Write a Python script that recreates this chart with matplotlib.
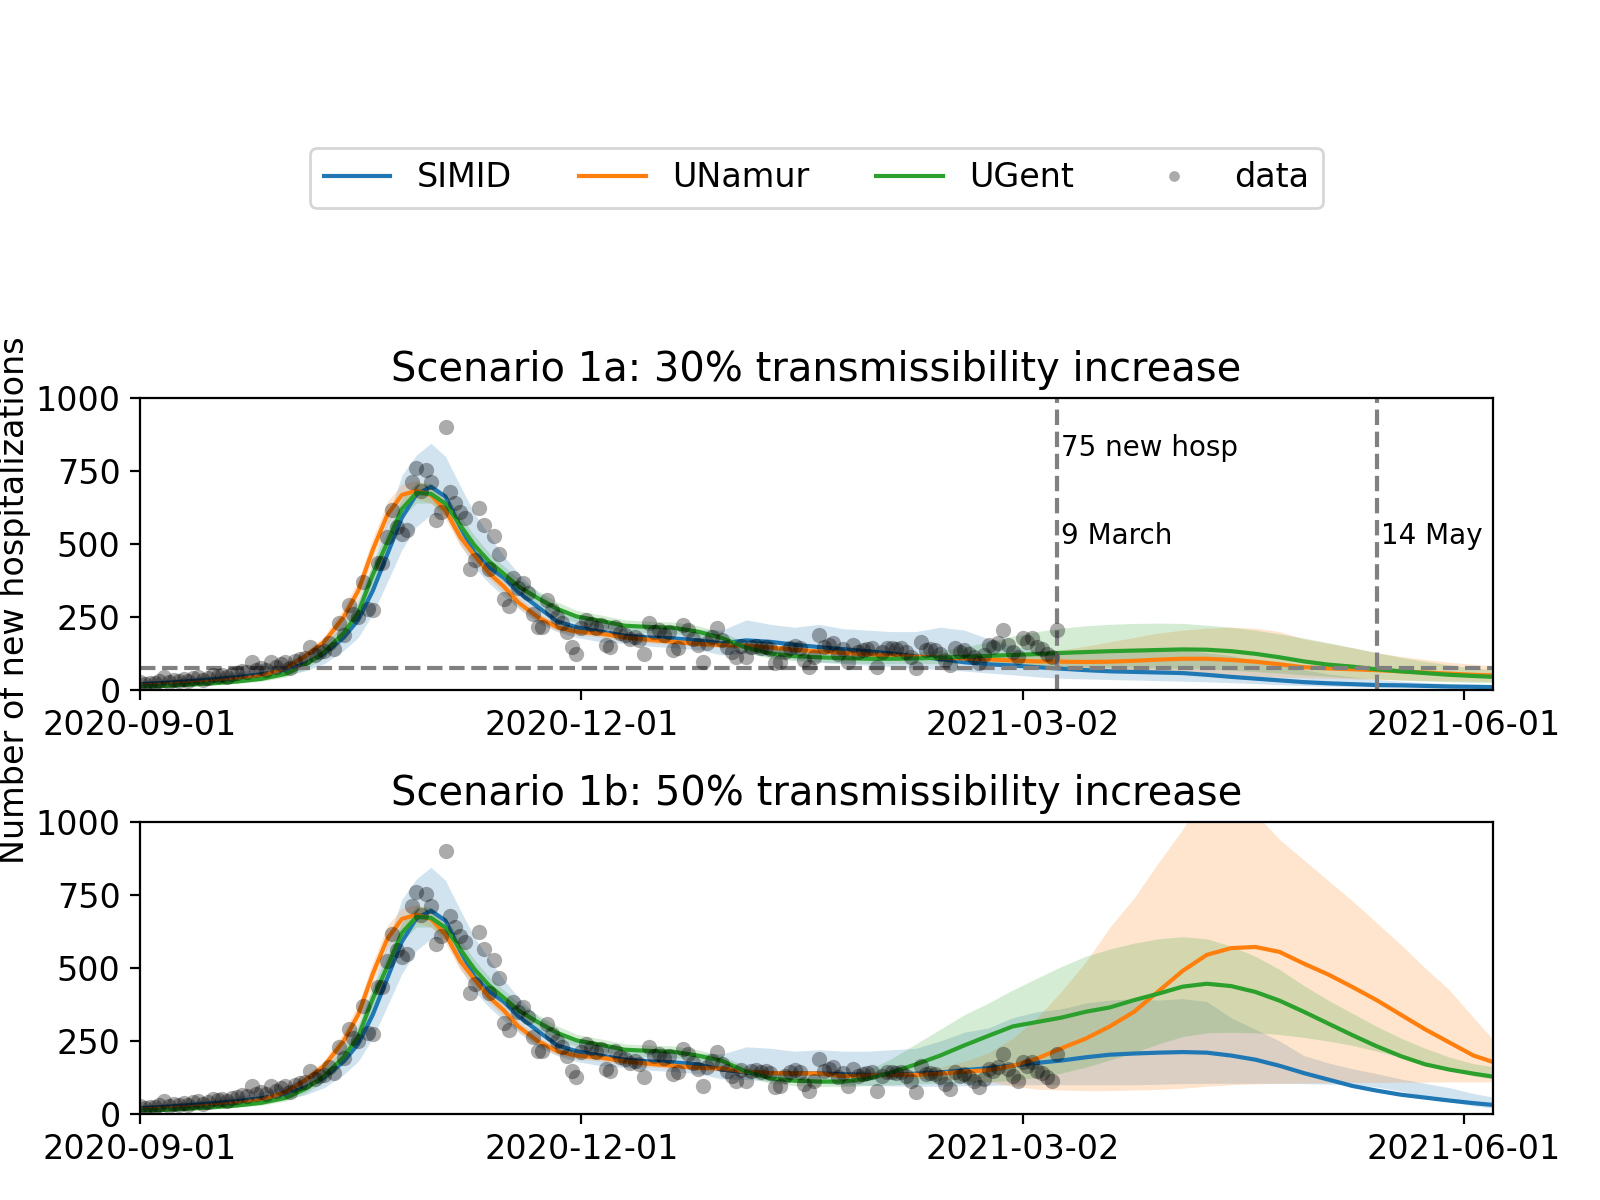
import numpy as np
import matplotlib
matplotlib.use('Agg')
import matplotlib.pyplot as plt
import matplotlib.dates as mdates

plt.rcParams['font.family'] = ['DejaVu Sans']
plt.rcParams['font.size'] = 12

# ---------------- data ----------------
start_date = '2020-09-01'
end_day = 279
xtick_labels = ['2020-09-01', '2020-12-01', '2021-03-02', '2021-06-01']
yticks = [0, 250, 500, 750, 1000]
titles = ['Scenario 1a: 30% transmissibility increase',
          'Scenario 1b: 50% transmissibility increase']
model_names = ['SIMID', 'UNamur', 'UGent']
ref_level = 75
event_dates = ['2021-03-09', '2021-05-14']

# observed daily new hospitalisations (from 2020-09-01, one per day)
data_values = [
    28, 22, 25, 23, 30, 45, 27, 35, 30, 38,
    32, 40, 45, 35, 42, 50, 48, 52, 45, 55,
    58, 65, 60, 97, 70, 75, 68, 97, 80, 90,
    97, 74, 100, 105, 110, 148, 120, 131, 135, 160,
    142, 228, 190, 291, 260, 251, 371, 278, 275, 434,
    434, 525, 616, 560, 536, 548, 714, 759, 680, 753,
    714, 582, 611, 902, 679, 640, 611, 590, 416, 445,
    622, 565, 416, 528, 465, 311, 288, 383, 350, 365,
    331, 262, 217, 215, 308, 274, 250, 228, 200, 148,
    125, 211, 240, 225, 211, 222, 154, 148, 217, 195,
    188, 175, 180, 170, 125, 228, 200, 205, 190, 199,
    137, 143, 222, 205, 175, 154, 97, 160, 180, 211,
    170, 148, 130, 114, 150, 114, 148, 150, 145, 148,
    140, 91, 97, 130, 143, 150, 143, 103, 80, 114,
    188, 148, 155, 160, 125, 140, 97, 154, 130, 137,
    140, 143, 80, 130, 143, 145, 140, 143, 130, 114,
    74, 165, 137, 140, 137, 125, 103, 86, 143, 130,
    137, 125, 114, 91, 120, 154, 148, 160, 205, 154,
    131, 114, 177, 165, 177, 148, 140, 125, 114, 205,
]

# calibration period (shared by both scenarios), day offsets from start
fit_days = [0, 5, 10, 15, 20, 25, 30, 34, 38, 42, 45, 48, 51, 54, 57, 60, 63, 66,
            69, 72, 75, 78, 82, 86, 90, 95, 100, 105, 110, 115]
simid_fit = [20, 24, 30, 36, 44, 54, 68, 90, 125, 180, 240, 340, 465, 590, 670, 696, 662, 560,
             470, 420, 385, 335, 285, 235, 215, 200, 186, 180, 177, 170]
simid_lo_fit = [12, 15, 20, 25, 32, 40, 50, 65, 90, 135, 180, 260, 370, 480, 560, 600, 600, 500,
                420, 365, 320, 280, 230, 200, 180, 165, 160, 150, 145, 138]
simid_hi_fit = [30, 35, 42, 50, 60, 75, 95, 125, 170, 240, 310, 435, 585, 735, 805, 845, 800, 700,
                605, 530, 460, 400, 335, 285, 255, 235, 222, 218, 215, 208]
unamur_fit = [15, 18, 23, 29, 37, 48, 75, 115, 165, 250, 340, 480, 600, 668, 683, 668, 615, 525,
              460, 400, 355, 300, 250, 215, 200, 193, 180, 172, 165, 158]
unamur_lo_fit = [12, 15, 19, 24, 31, 40, 63, 100, 145, 225, 310, 445, 565, 635, 655, 640, 585, 495,
                 435, 380, 333, 283, 235, 202, 188, 181, 168, 161, 155, 149]
unamur_hi_fit = [18, 21, 27, 34, 43, 55, 88, 130, 185, 280, 375, 520, 645, 705, 718, 700, 645, 555,
                 490, 425, 375, 318, 265, 228, 212, 205, 192, 183, 175, 167]
ugent_fit = [12, 14, 18, 23, 29, 38, 55, 85, 130, 195, 265, 395, 505, 620, 675, 672, 638, 565,
             495, 440, 398, 355, 315, 278, 252, 237, 220, 216, 213, 200]
ugent_lo_fit = [8, 10, 13, 17, 23, 30, 44, 70, 110, 170, 235, 365, 475, 590, 640, 640, 605, 535,
                468, 412, 372, 330, 292, 255, 232, 217, 200, 196, 193, 182]
ugent_hi_fit = [16, 19, 24, 30, 38, 48, 68, 102, 155, 225, 300, 435, 545, 655, 712, 708, 672, 598,
                528, 470, 425, 382, 340, 302, 273, 257, 240, 236, 233, 220]

# projection period
proj_days = [120, 125, 130, 135, 140, 145, 150, 155, 160, 165, 170, 175, 180, 185, 190, 195, 200,
             205, 210, 215, 220, 225, 230, 235, 240, 245, 250, 255, 260, 265, 270, 275, 279]

# scenario 1a
simid_1a = [160, 170, 165, 155, 147, 140, 133, 125, 115, 106, 95, 88, 84, 78, 73, 68, 64,
            62, 60, 58, 52, 45, 39, 33, 27, 23, 20, 17, 16, 14, 12, 11, 10]
simid_lo_1a = [120, 125, 115, 105, 95, 90, 85, 80, 75, 70, 65, 58, 52, 45, 40, 38, 36,
               34, 32, 30, 28, 25, 22, 18, 15, 13, 11, 9, 8, 7, 6, 5, 5]
simid_hi_1a = [205, 240, 225, 215, 225, 210, 205, 200, 200, 215, 205, 175, 150, 135, 130, 135, 140,
               138, 142, 135, 128, 118, 100, 85, 70, 55, 45, 36, 30, 26, 22, 20, 18]
unamur_1a = [154, 152, 146, 138, 132, 127, 122, 118, 114, 111, 108, 105, 101, 98, 97, 96, 97,
             100, 104, 107, 107, 103, 97, 88, 78, 74, 71, 68, 64, 60, 56, 52, 50]
unamur_lo_1a = [145, 143, 137, 130, 124, 119, 114, 110, 106, 103, 100, 96, 90, 84, 78, 73, 68,
                64, 60, 56, 53, 50, 47, 44, 42, 40, 38, 36, 34, 32, 31, 30, 29]
unamur_hi_1a = [163, 161, 155, 146, 140, 135, 130, 126, 122, 120, 118, 118, 120, 128, 138, 150, 165,
                180, 195, 205, 212, 215, 212, 200, 175, 160, 145, 128, 115, 105, 95, 88, 82]
ugent_1a = [178, 145, 125, 116, 112, 109, 107, 107, 108, 111, 114, 117, 120, 123, 127, 130, 133,
            135, 137, 139, 138, 133, 124, 112, 98, 87, 80, 71, 64, 58, 52, 48, 45]
ugent_lo_1a = [158, 128, 108, 100, 96, 93, 91, 90, 90, 90, 90, 88, 85, 82, 80, 78, 77,
               76, 75, 74, 72, 68, 63, 58, 52, 47, 42, 38, 34, 31, 28, 26, 25]
ugent_hi_1a = [198, 163, 142, 133, 128, 125, 124, 125, 128, 135, 148, 165, 185, 200, 212, 220, 225,
               228, 229, 228, 222, 215, 205, 192, 178, 162, 145, 128, 112, 98, 86, 75, 70]

# scenario 1b
simid_1b = [152, 142, 140, 139, 139, 136, 134, 134, 138, 142, 150, 157, 166, 175, 183, 194, 203,
            207, 210, 212, 210, 200, 186, 165, 140, 118, 96, 80, 66, 56, 46, 37, 31]
simid_lo_1b = [120, 118, 112, 108, 105, 100, 98, 96, 95, 95, 97, 98, 100, 100, 100, 100, 100,
               100, 102, 104, 105, 105, 105, 105, 104, 102, 100, 92, 78, 60, 42, 28, 20]
simid_hi_1b = [205, 230, 225, 215, 220, 215, 215, 220, 225, 250, 280, 295, 330, 350, 360, 380, 390,
               395, 390, 395, 385, 330, 290, 250, 200, 175, 155, 138, 120, 105, 90, 70, 58]
unamur_1b = [156, 145, 140, 139, 139, 130, 132, 135, 134, 138, 145, 150, 165, 190, 225, 258, 300,
             350, 420, 490, 545, 568, 572, 555, 515, 478, 435, 390, 340, 290, 245, 200, 178]
unamur_lo_1b = [147, 136, 131, 130, 130, 122, 123, 125, 122, 120, 115, 110, 95, 85, 82, 80, 80,
                82, 84, 88, 95, 100, 103, 105, 106, 107, 108, 108, 109, 109, 110, 110, 110]
unamur_hi_1b = [165, 154, 149, 148, 148, 138, 141, 145, 148, 160, 180, 210, 260, 330, 420, 520, 640,
                740, 860, 975, 1110, 1110, 1030, 940, 870, 800, 730, 655, 580, 500, 425, 330, 255]
ugent_1b = [182, 145, 122, 114, 111, 111, 120, 142, 170, 200, 235, 268, 300, 315, 330, 350, 365,
            390, 412, 436, 446, 438, 418, 388, 350, 310, 270, 232, 198, 170, 152, 138, 128]
ugent_lo_1b = [162, 128, 105, 97, 94, 94, 97, 100, 103, 105, 108, 110, 115, 125, 140, 160, 185,
               210, 240, 265, 278, 280, 278, 272, 262, 250, 235, 215, 195, 170, 150, 130, 120]
ugent_hi_1b = [200, 163, 140, 132, 130, 135, 150, 190, 240, 290, 340, 380, 425, 465, 505, 540, 565,
               585, 600, 607, 600, 575, 540, 495, 440, 390, 345, 300, 260, 225, 195, 172, 162]

# ---------------- build tables ----------------
t0 = np.datetime64(start_date)
model_dates = t0 + np.array(fit_days + proj_days, dtype='timedelta64[D]')
data_dates = t0 + np.arange(len(data_values)).astype('timedelta64[D]')

scenarios = [
    {
        'SIMID': (simid_fit + simid_1a, simid_lo_fit + simid_lo_1a, simid_hi_fit + simid_hi_1a),
        'UNamur': (unamur_fit + unamur_1a, unamur_lo_fit + unamur_lo_1a, unamur_hi_fit + unamur_hi_1a),
        'UGent': (ugent_fit + ugent_1a, ugent_lo_fit + ugent_lo_1a, ugent_hi_fit + ugent_hi_1a),
    },
    {
        'SIMID': (simid_fit + simid_1b, simid_lo_fit + simid_lo_1b, simid_hi_fit + simid_hi_1b),
        'UNamur': (unamur_fit + unamur_1b, unamur_lo_fit + unamur_lo_1b, unamur_hi_fit + unamur_hi_1b),
        'UGent': (ugent_fit + ugent_1b, ugent_lo_fit + ugent_lo_1b, ugent_hi_fit + ugent_hi_1b),
    },
]
colors = {'SIMID': 'tab:blue', 'UNamur': 'tab:orange', 'UGent': 'tab:green'}

# ---------------- figure ----------------
fig = plt.figure(figsize=(8, 6), dpi=200)
ax1 = fig.add_axes([0.0875, 0.425, 0.8456, 0.2433])
ax2 = fig.add_axes([0.0875, 0.0717, 0.8456, 0.2433])

for ax, scen, title in zip([ax1, ax2], scenarios, titles):
    for name in model_names:
        mid, lo, hi = scen[name]
        ax.fill_between(model_dates, lo, hi, color=colors[name], alpha=0.2, linewidth=0)
        ax.plot(model_dates, mid, color=colors[name], lw=1.5, label=name)
    ax.plot(data_dates, data_values, 'o', color='black', alpha=0.33, markersize=5.5,
            markeredgewidth=0, label='data', zorder=3)
    ax.set_ylim(0, 1000)
    ax.set_yticks(yticks)
    ax.set_xlim(t0, t0 + np.timedelta64(end_day, 'D'))
    ax.set_xticks([np.datetime64(s) for s in xtick_labels])
    ax.xaxis.set_major_formatter(mdates.DateFormatter('%Y-%m-%d'))
    ax.set_title(title)

# reference lines on the first panel
ax1.axhline(ref_level, color='gray', linestyle='--', lw=1.5)
for d in event_dates:
    ax1.axvline(np.datetime64(d), color='gray', linestyle='--', lw=1.5)
ax1.text(np.datetime64(event_dates[0]) + np.timedelta64(1, 'D'), 800, '75 new hosp', fontsize=10)
ax1.text(np.datetime64(event_dates[0]) + np.timedelta64(1, 'D'), 500, '9 March', fontsize=10)
ax1.text(np.datetime64(event_dates[1]) + np.timedelta64(1, 'D'), 500, '14 May', fontsize=10)

ax1.legend(loc='upper center', bbox_to_anchor=(0.5, 1.913), ncol=4, fontsize=12,
           markerscale=0.7)

fig.text(0.009, 0.5, 'Number of new hospitalizations', rotation=90,
         va='center', ha='center', fontsize=12)

fig.savefig('out.png', dpi=200)
